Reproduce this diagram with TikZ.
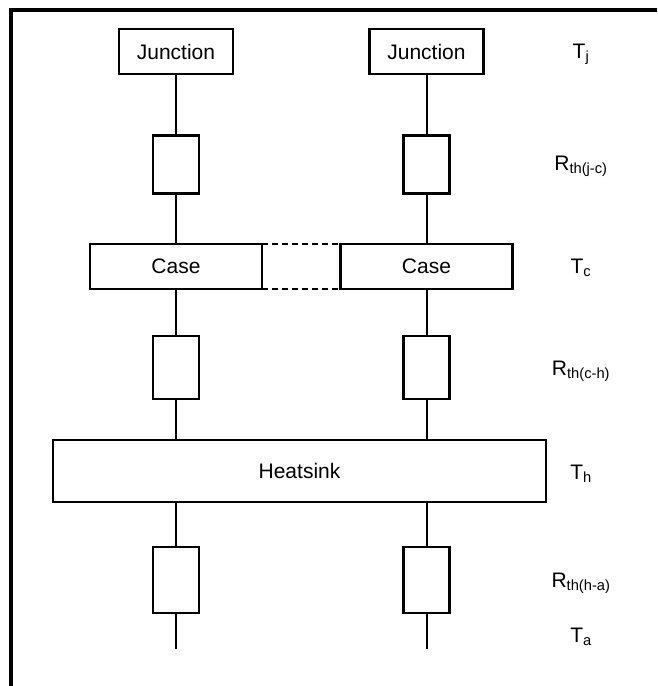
\documentclass[tikz,border=0pt]{standalone}
\usepackage{fontspec}
\setmainfont{Liberation Sans}
\begin{document}
\begin{tikzpicture}[x=1pt,y=-1pt,
  box/.style={draw,line width=2.3pt,inner sep=0pt,outer sep=0pt,font=\fontsize{21}{25}\selectfont},
  res/.style={box,minimum width=46pt},
  wire/.style={line width=2pt},
  lbl/.style={anchor=base,inner sep=0pt,font=\fontsize{21}{25}\selectfont},
  frame/.style={line width=4pt}]
\useasboundingbox (0,0) rectangle (657,686);
\draw[frame] (657,9.5) -- (10.5,9.5) -- (10.5,686);
\node[box,minimum width=114pt,minimum height=45pt] (j1) at (176,51.5) {Junction};
\node[box,minimum width=114pt,minimum height=45pt] (j2) at (426.5,51.5) {Junction};
\node[res,minimum height=58pt] (r1a) at (176,164.5) {};
\node[res,minimum height=58pt] (r1b) at (426.5,164.5) {};
\node[box,minimum width=172pt,minimum height=45pt] (c1) at (176,266.5) {Case};
\node[box,minimum width=172pt,minimum height=45pt] (c2) at (426.5,266.5) {Case};
\node[res,minimum height=63pt] (r2a) at (176,367.5) {};
\node[res,minimum height=63pt] (r2b) at (426.5,367.5) {};
\node[box,minimum width=493pt,minimum height=62pt] (hs) at (299.5,471) {Heatsink};
\node[res,minimum height=66pt] (r3a) at (176,580) {};
\node[res,minimum height=66pt] (r3b) at (426.5,580) {};
\coordinate (ea) at (176,649);
\coordinate (eb) at (426.5,649);
\draw[wire] (j1) -- (r1a);
\draw[wire] (j2) -- (r1b);
\draw[wire] (r1a) -- (c1);
\draw[wire] (r1b) -- (c2);
\draw[wire] (c1) -- (r2a);
\draw[wire] (c2) -- (r2b);
\draw[wire] (r2a) -- (r2a |- hs.north);
\draw[wire] (r2b) -- (r2b |- hs.north);
\draw[wire] (r3a |- hs.south) -- (r3a);
\draw[wire] (r3b |- hs.south) -- (r3b);
\draw[wire] (r3a) -- (ea);
\draw[wire] (r3b) -- (eb);
\draw[wire,dash pattern=on 6pt off 4pt] (c1.north east) -- (c2.north west);
\draw[wire,dash pattern=on 6pt off 4pt] (c1.south east) -- (c2.south west);
\node[lbl] (tj) at (581,58) {T\textsubscript{j}};
\node[lbl] (rjc) at (581,170) {R\textsubscript{th(j-c)}};
\node[lbl] (tc) at (581,273) {T\textsubscript{c}};
\node[lbl] (rch) at (581,375) {R\textsubscript{th(c-h)}};
\node[lbl] (th) at (581,479) {T\textsubscript{h}};
\node[lbl] (rha) at (581,587) {R\textsubscript{th(h-a)}};
\node[lbl] (ta) at (581,642) {T\textsubscript{a}};
\end{tikzpicture}
\end{document}
